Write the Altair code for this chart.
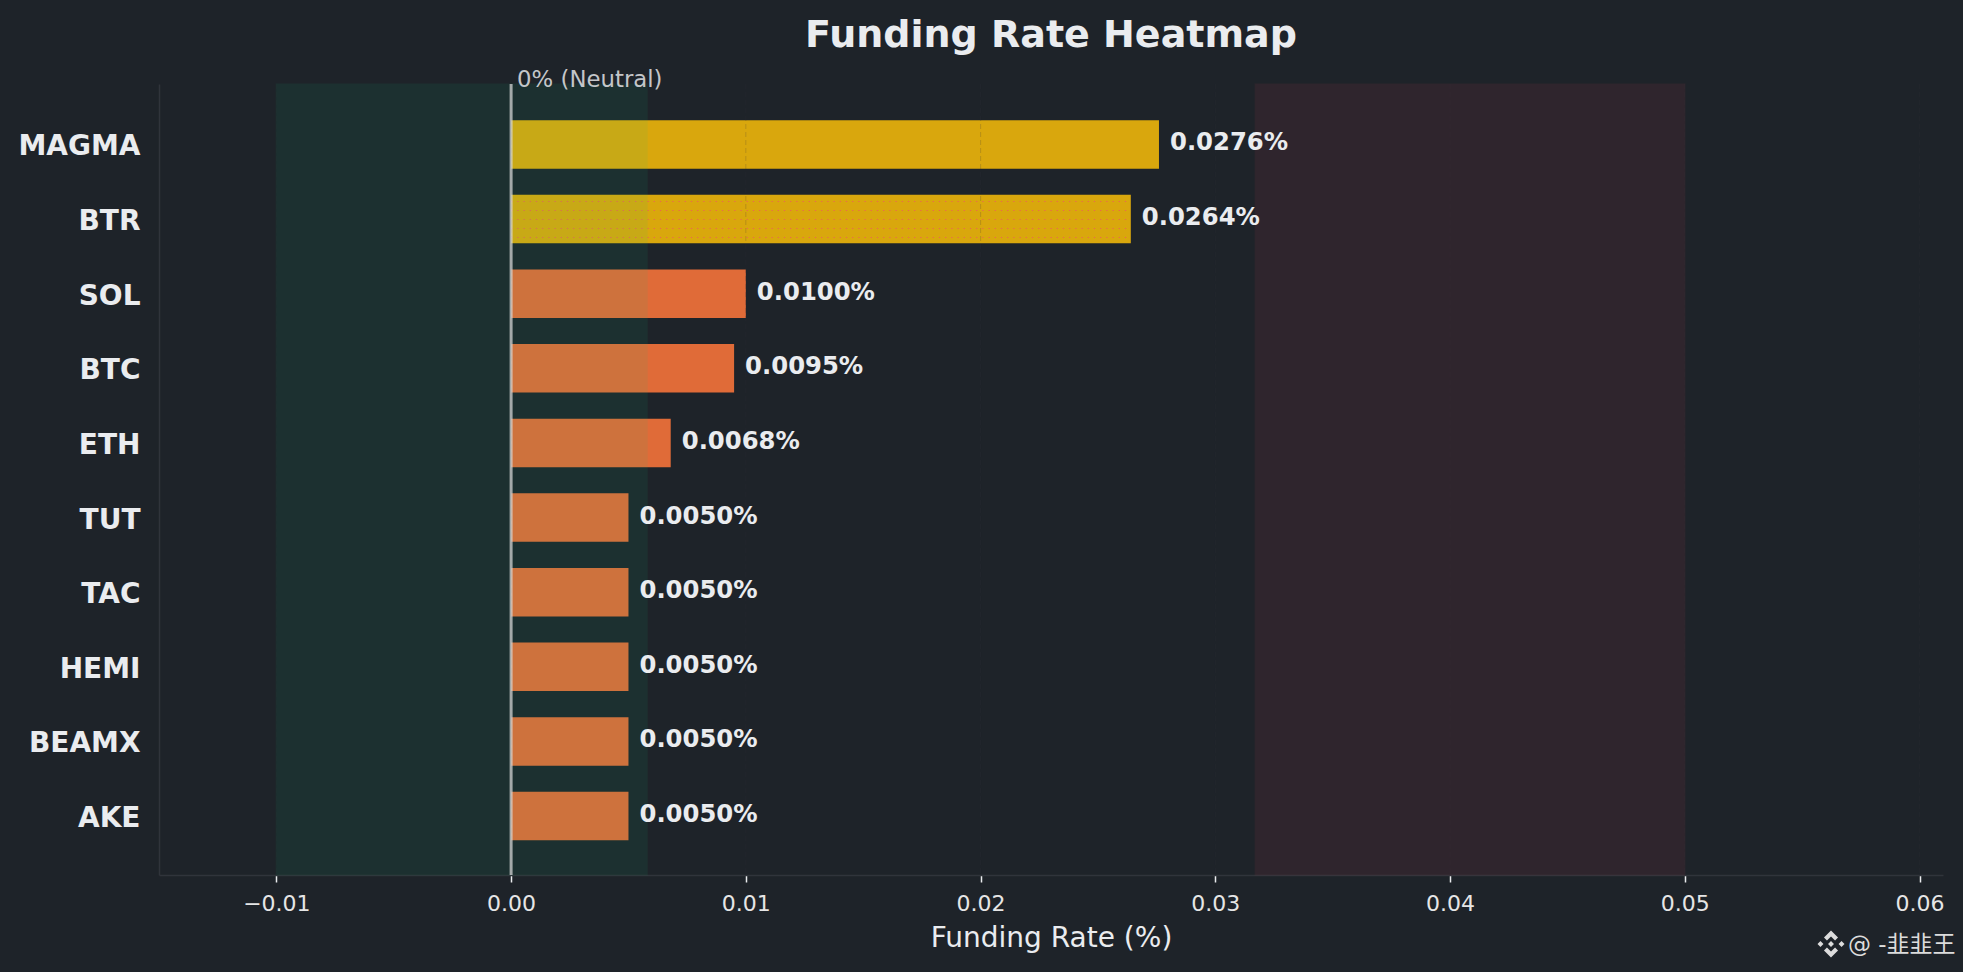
import altair as alt
import pandas as pd

BG = "#1e2329"
FONT = "DejaVu Sans"

symbols = ["MAGMA", "BTR", "SOL", "BTC", "ETH", "TUT", "TAC", "HEMI", "BEAMX", "AKE"]
rates = [0.0276, 0.0264, 0.0100, 0.0095, 0.0068, 0.0050, 0.0050, 0.0050, 0.0050, 0.0050]
tiers = ["high", "high", "mid", "mid", "mid", "mid", "mid", "mid", "mid", "mid"]
ticks = [-0.01, 0.0, 0.01, 0.02, 0.03, 0.04, 0.05, 0.06]
x_domain = [-0.015, 0.0610]
green_band = [-0.01, 0.0058]
red_band = [0.0317, 0.05]
hatched = ["BTR"]

df = pd.DataFrame({"symbol": symbols, "rate": rates, "tier": tiers,
                   "label": [f"{r:.4f}%" for r in rates], "zero": [0.0] * len(rates)})
df_hatch = df[df.symbol.isin(hatched)]
df_green = pd.DataFrame({"a": [green_band[0]], "b": [green_band[1]]})
df_red = pd.DataFrame({"a": [red_band[0]], "b": [red_band[1]]})
df_ticks = pd.DataFrame({"t": ticks})

W, H = 1784, 791

x = alt.X("rate:Q", scale=alt.Scale(domain=x_domain, nice=False, zero=False),
          axis=alt.Axis(values=ticks, title="Funding Rate (%)", grid=False,
                        labelExpr="replace(format(datum.value,'.2f'),'-','\u2212')",
                        labelFont=FONT, labelFontSize=22, labelColor="#e6e6e6", labelPadding=11,
                        titleFont=FONT, titleFontSize=28, titleColor="#eaecef", titleFontWeight="normal",
                        titlePadding=10, tickColor="#eaecef", tickSize=7, tickWidth=1.5,
                        domainColor="#30343b", domainWidth=1.5))
y = alt.Y("symbol:N", sort=symbols,
          scale=alt.Scale(paddingInner=0.35, paddingOuter=0.475, align=0.51),
          axis=alt.Axis(title=None, ticks=False, labelFont=FONT, labelFontSize=28, labelFontWeight="bold",
                        labelColor="#eaecef", labelPadding=19, labelOffset=3,
                        domainColor="#30343b", domainWidth=1.5, grid=False))

bars = alt.Chart(df).mark_bar(cornerRadius=0).encode(
    x=x, x2="zero:Q", y=y,
    color=alt.Color("tier:N", legend=None,
                    scale=alt.Scale(domain=["high", "mid"], range=["#d9a70d", "#e06b38"])),
)

grid = alt.Chart(df_ticks).mark_rule(color="#30343b", opacity=0.2, strokeDash=[5, 3], strokeWidth=1).encode(
    x=alt.X("t:Q"))

hatch_layers = []
for off in (-17.5, -8.5, 0.5, 9.5, 18.5):
    hatch_layers.append(
        alt.Chart(df_hatch).mark_rule(color="#f0506a", opacity=0.75, strokeWidth=1.1,
                                      strokeDash=[1.2, 5], yOffset=off).encode(
            x=alt.X("zero:Q"), x2="rate:Q", y=alt.Y("symbol:N", sort=symbols)))

band_green = alt.Chart(df_green).mark_rect(color="#0ecb81", opacity=0.08, stroke="#0ecb81", strokeWidth=1.5,
                                           strokeOpacity=0.6).encode(x=alt.X("a:Q"), x2="b:Q")
band_red = alt.Chart(df_red).mark_rect(color="#f6465d", opacity=0.08, stroke="#f6465d", strokeWidth=1.5,
                                       strokeOpacity=0.6).encode(x=alt.X("a:Q"), x2="b:Q")

zero_line = alt.Chart(pd.DataFrame({"z": [0.0]})).mark_rule(color="#d8d8d8", opacity=0.72, strokeWidth=3).encode(
    x=alt.X("z:Q"))

neutral = alt.Chart(pd.DataFrame({"z": [0.0], "txt": ["0% (Neutral)"]})).mark_text(
    align="left", baseline="middle", dx=6, font=FONT, fontSize=22.8, color="#c4c6c9").encode(
    x=alt.X("z:Q"), y=alt.value(-4), text="txt:N")

labels = alt.Chart(df).mark_text(align="left", baseline="middle", dx=11, dy=-1, font=FONT, fontSize=24.3,
                                 fontWeight="bold", color="#eaecef").encode(
    x=alt.X("rate:Q"), y=alt.Y("symbol:N", sort=symbols), text="label:N")

logo_path = ("M0,-1L.52,-.48L.3,-.26L0,-.56L-.3,-.26L-.52,-.48Z"
             "M0,1L-.52,.48L-.3,.26L0,.56L.3,.26L.52,.48Z"
             "M0,-.22L.22,0L0,.22L-.22,0Z"
             "M-.78,-.22L-.56,0L-.78,.22L-1,0Z"
             "M.78,-.22L1,0L.78,.22L.56,0Z")
logo = alt.Chart(pd.DataFrame({"k": [1]})).mark_point(
    shape=logo_path, filled=True, size=729, color="#dcdcdc", opacity=1).encode(
    x=alt.value(1672), y=alt.value(860))
mark_txt = alt.Chart(pd.DataFrame({"txt": ["@ -\u97ed\u97ed\u738b"]})).mark_text(
    align="left", baseline="middle", font="DejaVu Sans, Noto Sans CJK SC", fontSize=23, color="#dcdcdc").encode(
    x=alt.value(1689), y=alt.value(861), text="txt:N")

chart = alt.layer(bars, grid, *hatch_layers, band_green, band_red, zero_line, neutral, labels, logo, mark_txt).properties(
    width=W, height=H, background=BG,
    autosize=alt.AutoSizeParams(type="none"),
    padding={"left": 151, "top": 76, "right": 12, "bottom": 89},
    title=alt.TitleParams("Funding Rate Heatmap", font=FONT, fontSize=38, fontWeight="bold", color="#eaecef",
                          anchor="middle", offset=14),
).configure_view(stroke=None)

chart.save("out.html", embed_options={"renderer": "svg", "actions": False,
                                      "defaultStyle": "html,body{background:#1e2329}"})
